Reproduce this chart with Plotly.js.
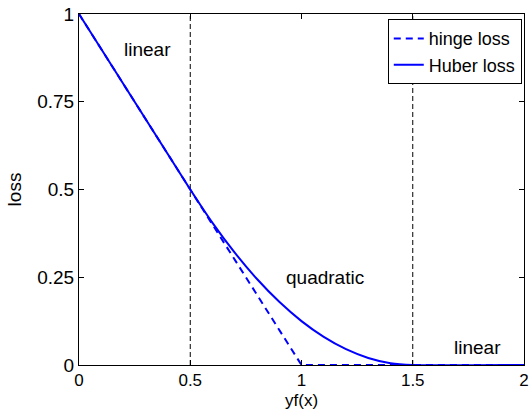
<!DOCTYPE html>
<html><head><meta charset="utf-8">
<script src="https://cdn.plot.ly/plotly-3.0.1.min.js"></script>
<style>body{margin:0;padding:0;background:#fff}#chart{width:529px;height:410px}</style>
</head><body><div id="chart"></div>
<script>
const hingeX = [0, 1, 2];
const hingeY = [1, 0, 0];
const huberX = [0, 0.5, 0.6, 0.7, 0.8, 0.9, 1.0, 1.1, 1.2, 1.3, 1.4, 1.5, 2];
const huberY = [1, 0.5, 0.405, 0.32, 0.245, 0.18, 0.125, 0.08, 0.045, 0.02, 0.005, 0, 0];
const boundaries = [0.5, 1.5];
const regionLabels = ['linear', 'quadratic', 'linear'];
const regionLabelX = [0.31, 1.105, 1.79];
const regionLabelY = [0.9, 0.25, 0.05];
const xTicks = [0, 0.5, 1, 1.5, 2];
const xTickText = ['0', '0.5', '1', '1.5', '2'];
const yTicks = [0, 0.25, 0.5, 0.75, 1];
const yTickText = ['0', '0.25', '0.5', '0.75', '1'];
const xTitle = 'yf(x)';
const yTitle = 'loss';

const font = {family: 'Liberation Sans, Arial, sans-serif', size: 19, color: '#000'};
const smallFont = {family: 'Liberation Sans, Arial, sans-serif', size: 18, color: '#000'};
const xFont = {family: 'Liberation Sans, Arial, sans-serif', size: 17, color: '#000'};

const traces = [
  {x: hingeX, y: hingeY, mode: 'lines', name: 'hinge loss',
   line: {color: '#0000ff', width: 2, dash: '7px,5px'}},
  {x: huberX, y: huberY, mode: 'lines', name: 'Huber loss',
   line: {color: '#0000ff', width: 2, shape: 'spline', smoothing: 0.6}}
];

const shapes = boundaries.map(b => ({
  type: 'line', xref: 'x', yref: 'paper', x0: b, x1: b, y0: 0, y1: 1,
  line: {color: '#000', width: 1, dash: '5px,3px'}, layer: 'below'
}));

const annotations = regionLabels.map((t, i) => ({
  text: t, x: regionLabelX[i], y: regionLabelY[i], xref: 'x', yref: 'y',
  showarrow: false, font: font
}));
annotations.push({
  text: xTitle, xref: 'paper', yref: 'paper', x: 0.5, y: 0, yanchor: 'top',
  yshift: -25, showarrow: false, font: xFont, borderpad: 0
});

const axisCommon = {
  showgrid: false, zeroline: false, showline: true, linecolor: '#000', linewidth: 1,
  mirror: 'ticks', ticks: 'inside', ticklen: 5, tickcolor: '#000', tickfont: font,
  automargin: false, ticklabeloverflow: 'allow'
};

const layout = {
  width: 529, height: 410,
  margin: {l: 79, r: 5, t: 14, b: 45},
  paper_bgcolor: '#fff', plot_bgcolor: '#fff',
  font: font,
  showlegend: true,
  legend: {x: 0.995, y: 0.985, xanchor: 'right', yanchor: 'top',
    bgcolor: '#fff', bordercolor: '#000', borderwidth: 1, font: smallFont,
    tracegroupgap: 0, itemwidth: 30},
  xaxis: Object.assign({}, axisCommon, {range: [0, 2], tickvals: xTicks, ticktext: xTickText,
    tickfont: xFont, ticklabelstandoff: 0}),
  yaxis: Object.assign({}, axisCommon, {range: [0, 1], tickvals: yTicks, ticktext: yTickText,
    title: {text: yTitle, font: font, standoff: 10}}),
  shapes: shapes,
  annotations: annotations
};

Plotly.newPlot('chart', traces, layout, {displayModeBar: false, staticPlot: true});
</script></body></html>
